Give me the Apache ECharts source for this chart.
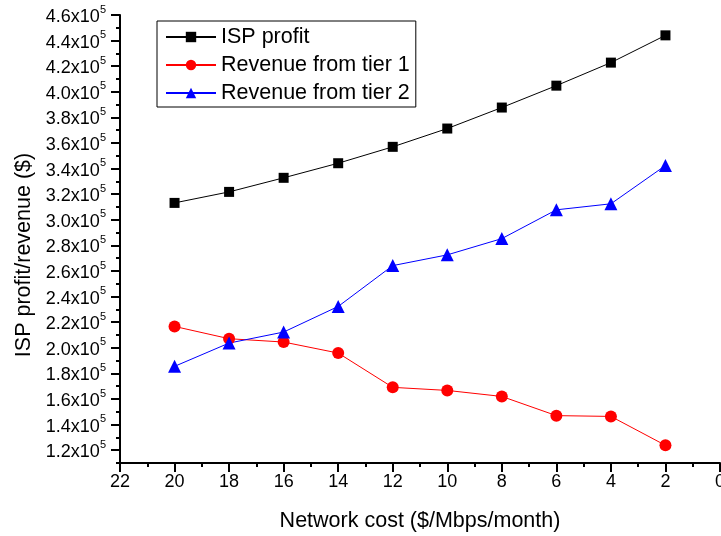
<!DOCTYPE html>
<html>
<head>
<meta charset="utf-8">
<script src="https://cdn.jsdelivr.net/npm/echarts@6/dist/echarts.min.js"></script>
<style>
    html, body { margin: 0; padding: 0; background: #fff; }
    #chart { width: 721px; height: 536px; }
</style>
</head>
<body>
<div id="chart"></div>
<script>
    // network cost ($/Mbps/month)
    var costs = [20, 18, 16, 14, 12, 10, 8, 6, 4, 2]
    // values in $
    var ispProfit = [313200, 321800, 332800, 344200, 357000, 371300, 387700, 404800, 422800, 444100]
    var tier1Revenue = [216700, 207100, 204500, 195900, 169100, 166700, 162000, 147000, 146400, 123800]
    var tier2Revenue = [185500, 203700, 212300, 232300, 264200, 272600, 285300, 307800, 312500, 342400]
    // labelled y ticks and the minor ones between them
    var yMajorTicks = [120000, 140000, 160000, 180000, 200000, 220000, 240000, 260000, 280000, 300000,
        320000, 340000, 360000, 380000, 400000, 420000, 440000, 460000]
    var yMinorTicks = [110000, 130000, 150000, 170000, 190000, 210000, 230000, 250000, 270000, 290000,
        310000, 330000, 350000, 370000, 390000, 410000, 430000, 450000]

    function pairs (ys) {
        return costs.map(function (c, i) { return [c, ys[i]] })
    }

    var font = 'Liberation Sans, Arial, sans-serif'
    var plotBox = {left: 120, right: 1, top: 15, bottom: 73, outerBoundsMode: 'none', containLabel: false}
    var chart = echarts.init(document.getElementById('chart'), null, {renderer: 'canvas'})
    chart.setOption({
        animation: false,
        backgroundColor: '#fff',
        textStyle: {fontFamily: font, color: '#000'},
        // second grid only carries the minor y ticks
        grid: [plotBox, Object.assign({}, plotBox)],
        legend: {
            left: 157,
            top: 21,
            orient: 'vertical',
            padding: [5, 6, 3, 8],
            borderColor: '#000',
            borderWidth: 1,
            itemWidth: 50,
            itemHeight: 13,
            itemGap: 6,
            textStyle: {fontFamily: font, fontSize: 21.5, color: '#000'},
            data: ['ISP profit', 'Revenue from tier 1', 'Revenue from tier 2']
        },
        xAxis: [
            {
                type: 'value',
                gridIndex: 0,
                min: 0,
                max: 22,
                interval: 2,
                inverse: true,
                name: 'Network cost ($/Mbps/month)',
                nameLocation: 'middle',
                nameGap: 47,
                nameTextStyle: {fontFamily: font, fontSize: 21.5, color: '#000'},
                axisLine: {show: true, onZero: false, lineStyle: {color: '#000', width: 2}},
                axisTick: {show: true, length: 9, lineStyle: {color: '#000', width: 2}},
                minorTick: {show: true, splitNumber: 2, length: 4, lineStyle: {color: '#000', width: 2}},
                axisLabel: {fontFamily: font, fontSize: 18, color: '#000', margin: 10},
                splitLine: {show: false}
            },
            {
                type: 'value',
                gridIndex: 1,
                min: 0,
                max: 22,
                show: false
            }
        ],
        yAxis: [
            {
                type: 'value',
                gridIndex: 0,
                min: 110000,
                max: 460000,
                position: 'left',
                name: 'ISP profit/revenue ($)',
                nameLocation: 'middle',
                nameRotate: 90,
                nameGap: 84,
                nameTextStyle: {fontFamily: font, fontSize: 21.5, color: '#000', padding: [0, 32, 0, 0]},
                axisLine: {show: true, onZero: false, lineStyle: {color: '#000', width: 2}},
                axisTick: {show: true, length: 9, customValues: yMajorTicks, lineStyle: {color: '#000', width: 2}},
                axisLabel: {
                    customValues: yMajorTicks,
                    margin: 14,
                    formatter: function (v) {
                        return '{m|' + (v / 100000).toFixed(1) + 'x10}{s|5}'
                    },
                    rich: {
                        m: {fontFamily: font, fontSize: 18, color: '#000', lineHeight: 22, verticalAlign: 'bottom'},
                        s: {fontFamily: font, fontSize: 11, color: '#000', lineHeight: 22, verticalAlign: 'top'}
                    }
                },
                splitLine: {show: false}
            },
            {
                type: 'value',
                gridIndex: 1,
                min: 110000,
                max: 460000,
                position: 'left',
                axisLine: {show: false, onZero: false},
                axisTick: {show: true, length: 4, customValues: yMinorTicks, lineStyle: {color: '#000', width: 2}},
                axisLabel: {show: false},
                splitLine: {show: false}
            }
        ],
        series: [
            {
                name: 'ISP profit',
                type: 'line',
                data: pairs(ispProfit),
                symbol: 'rect',
                symbolSize: 10,
                color: '#000',
                lineStyle: {width: 1, color: '#000'},
                itemStyle: {color: '#000'}
            },
            {
                name: 'Revenue from tier 1',
                type: 'line',
                data: pairs(tier1Revenue),
                symbol: 'circle',
                symbolSize: 12,
                color: '#ff0000',
                lineStyle: {width: 1, color: '#ff0000'},
                itemStyle: {color: '#ff0000'}
            },
            {
                name: 'Revenue from tier 2',
                type: 'line',
                data: pairs(tier2Revenue),
                symbol: 'triangle',
                symbolSize: 13,
                color: '#0000ff',
                lineStyle: {width: 1, color: '#0000ff'},
                itemStyle: {color: '#0000ff'}
            }
        ]
    })
</script>
</body>
</html>
